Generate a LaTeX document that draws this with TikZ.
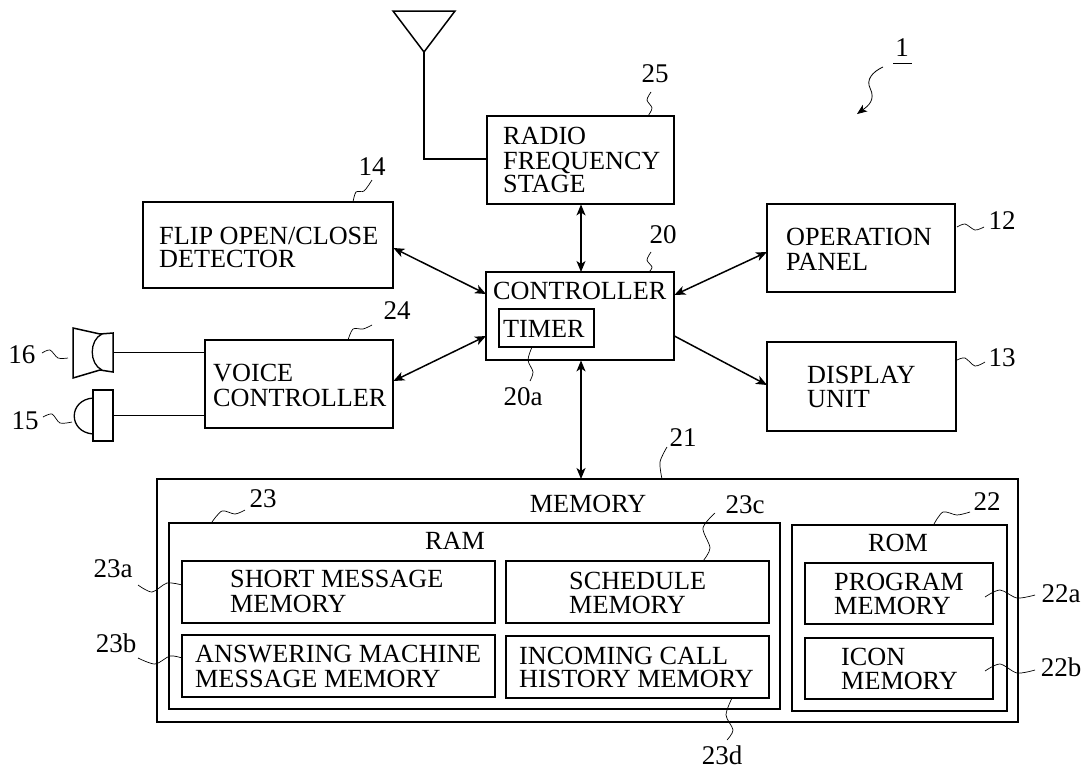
\documentclass[tikz,border=0pt]{standalone}
\usepackage{fontspec}
\setmainfont{Liberation Serif}
\usetikzlibrary{arrows.meta}
\tikzset{
 box/.style={draw,line width=1.6pt,inner sep=0pt},
 lab/.style={font=\fontsize{26.2}{28}\selectfont,inner sep=0pt,anchor=base west},
 cen/.style={font=\fontsize{26.2}{28}\selectfont,inner sep=0pt,anchor=base},
 num/.style={font=\fontsize{27}{29}\selectfont,inner sep=0pt},
 tipd/.tip={Stealth[length=11pt,width=9pt,inset=3pt]},
 conn/.style={line width=1.5pt,tipd-tipd},
 oneway/.style={line width=1.5pt,-tipd},
 wire/.style={line width=0.9pt},
 sq/.style={line width=0.7pt},
 outl/.style={line width=1.5pt},
}
\newcommand{\rbox}[5]{\path[box] (#2,#3) rectangle (#4,#5); \node[minimum width=#4pt-#2pt,minimum height=#5pt-#3pt,inner sep=0pt,anchor=north west] (#1) at (#2,#3) {};}
\newcommand{\squig}[1]{\draw[sq] plot[smooth] coordinates {#1};}
\begin{document}
\begin{tikzpicture}[x=1pt,y=-1pt]
\useasboundingbox (0,0) rectangle (1091,769);
\fill[white] (0,0) rectangle (1091,769);
% boxes
\rbox{rf}{487}{116}{674}{204}
\rbox{flip}{143}{202}{393}{288}
\rbox{ctrl}{486}{272}{674}{360}
\rbox{timer}{499}{309}{594}{347}
\rbox{op}{767}{204}{955}{292}
\rbox{disp}{767}{342}{956}{431}
\rbox{voice}{205}{340}{393}{428}
\rbox{mem}{157}{479}{1018}{722}
\rbox{ram}{169}{523}{780}{709}
\rbox{rom}{792}{525}{1007}{711}
\rbox{sm}{182}{561}{495}{623}
\rbox{sch}{506}{561}{769}{623}
\rbox{am}{182}{635}{495}{697}
\rbox{inc}{506}{636}{769}{698}
\rbox{pm}{805}{563}{993}{624}
\rbox{im}{805}{638}{993}{699}
% antenna
\draw[outl] (393,11) -- (455,11) -- (424,52) -- cycle;
\coordinate (ant) at (424,52);
\draw[wire,line width=1.2pt] (ant) |- (rf.west|-0,159);
% speaker
\draw[outl] (73,328) -- (100,334) -- (113,333) -- (113,372) -- (100,370) -- (73,378) -- cycle;
\draw[line width=1.3pt] (102,334) .. controls (89,340) and (89,364) .. (102,370);
\coordinate (spk) at (113,352);
% microphone
\draw[outl] (93,390) rectangle (113,441);
\draw[line width=1.3pt] (93,398) .. controls (68,400) and (68,432) .. (93,434);
\coordinate (mic) at (113,415);
\draw[wire] (spk) -- (voice.west|-0,352);
\draw[wire] (mic) -- (voice.west|-0,415);
% connectors
\draw[conn] (rf.south-|581,0) -- (ctrl.north-|581,0);
\draw[conn] (flip.east|-0,248) -- (ctrl.west|-0,294);
\draw[conn] (voice.east|-0,381) -- (ctrl.west|-0,336);
\draw[conn] (ctrl.east|-0,295) -- (op.west|-0,252);
\draw[oneway] (ctrl.east|-0,336) -- (disp.west|-0,385);
\draw[conn] (ctrl.south-|581,0) -- (mem.north-|581,0);
% text
\node[lab] at (503,144) {RADIO};
\node[lab] at (503,169) {FREQUENCY};
\node[lab] at (503,192) {STAGE};
\node[lab] at (159,244) {FLIP OPEN/CLOSE};
\node[lab] at (159,267) {DETECTOR};
\node[lab] at (493,299) {CONTROLLER};
\node[lab] at (503,337) {TIMER};
\node[lab] at (786,245) {OPERATION};
\node[lab] at (786,270) {PANEL};
\node[lab] at (807,383) {DISPLAY};
\node[lab] at (807,407) {UNIT};
\node[lab] at (213,381) {VOICE};
\node[lab] at (213,406) {CONTROLLER};
\node[cen] at (588,512) {MEMORY};
\node[cen] at (455,549) {RAM};
\node[cen] at (898,551) {ROM};
\node[lab] at (230,587) {SHORT MESSAGE};
\node[lab] at (230,612) {MEMORY};
\node[lab] at (569,589) {SCHEDULE};
\node[lab] at (569,613) {MEMORY};
\node[lab] at (195,662) {ANSWERING MACHINE};
\node[lab] at (195,687) {MESSAGE MEMORY};
\node[lab] at (519,664) {INCOMING CALL};
\node[lab] at (519,687) {HISTORY MEMORY};
\node[lab] at (834,590) {PROGRAM};
\node[lab] at (834,614) {MEMORY};
\node[lab] at (841,665) {ICON};
\node[lab] at (841,689) {MEMORY};
% numbers
\node[num] at (655,74) {25};
\node[num] at (372,167) {14};
\node[num] at (663,235) {20};
\node[num] at (1002,221) {12};
\node[num] at (1002,358) {13};
\node[num] at (397,311) {24};
\node[num] at (523,397) {20a};
\node[num] at (683,438) {21};
\node[num] at (987,502) {22};
\node[num] at (263,499) {23};
\node[num] at (745,505) {23c};
\node[num] at (113,569) {23a};
\node[num] at (116,643) {23b};
\node[num] at (1061,594) {22a};
\node[num] at (1061,667) {22b};
\node[num] at (722,755) {23d};
\node[num] at (22,355) {16};
\node[num] at (25,421) {15};
\node[num] at (902,48) {1};
\coordinate (ula) at (893,63); \coordinate (ulb) at (912,63);
\draw[line width=1pt] (ula) -- (ulb);
% squiggles
\squig{(651,92) (647,100) (652,108) (648,116)}
\squig{(353,202) (356,192) (364,191) (372,180)}
\squig{(651,252) (647,260) (652,267) (649,272)}
\squig{(957,227) (965,224) (975,230) (984,227)}
\squig{(957,360) (965,358) (975,366) (985,362)}
\squig{(348,340) (353,329) (363,329) (372,325)}
\squig{(532,347) (528,360) (533,372) (530,381)}
\squig{(662,479) (660,462) (667,447)}
\squig{(934,524) (943,512) (957,515) (970,512)}
\squig{(212,522) (222,511) (235,514) (245,510)}
\squig{(715,513) (703,528) (710,548) (703,561)}
\squig{(138,585) (152,592) (167,583) (182,585)}
\squig{(138,658) (155,664) (170,656) (182,658)}
\squig{(985,597) (1000,590) (1017,598) (1035,595)}
\squig{(985,671) (1000,664) (1017,673) (1035,670)}
\squig{(732,698) (726,715) (733,730) (727,740)}
\squig{(42,353) (50,350) (58,358) (68,358)}
\squig{(43,417) (52,414) (60,423) (72,422)}
\coordinate (arra) at (883,67); \coordinate (arrb) at (857,114);
\draw[line width=0.8pt,-{Stealth[length=10pt,width=8pt,inset=2.5pt]}] (arra) .. controls (872,72) and (866,80) .. (870,88) .. controls (876,100) and (868,106) .. (arrb);
\end{tikzpicture}
\end{document}
